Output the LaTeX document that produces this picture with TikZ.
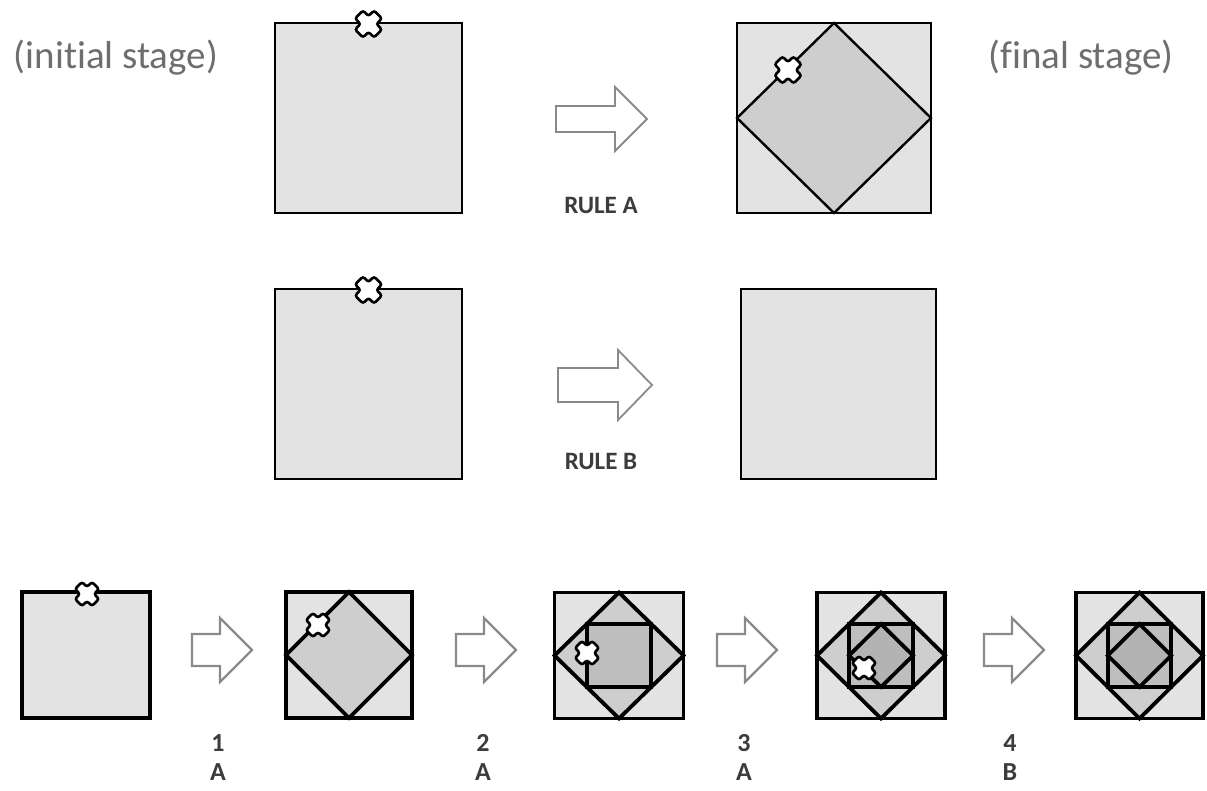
\documentclass[tikz,border=0pt]{standalone}
\usepackage{fontspec}
\setmainfont{Carlito}[Ligatures=NoCommon]
\definecolor{cA}{HTML}{E3E3E3}
\definecolor{cB}{HTML}{CECECE}
\definecolor{cC}{HTML}{BEBEBE}
\definecolor{cD}{HTML}{B3B3B3}
\definecolor{arrowgray}{HTML}{8A8A8A}
\definecolor{lblgray}{HTML}{6E6E6E}
\definecolor{rulegray}{HTML}{3C3C3C}
\newcommand\nestsq[6]{%
  \begin{scope}[shift={(#1,#2)}, line width=#6, line join=miter]
    \filldraw[fill=cA] (-#3,-#4) rectangle (#3,#4);
    \ifnum#5>0 \filldraw[fill=cB] (-#3,0)--(0,-#4)--(#3,0)--(0,#4)--cycle; \fi
    \ifnum#5>1 \filldraw[fill=cC] (-#3/2,-#4/2) rectangle (#3/2,#4/2); \fi
    \ifnum#5>2 \filldraw[fill=cD] (-#3/2,0)--(0,-#4/2)--(#3/2,0)--(0,#4/2)--cycle; \fi
  \end{scope}}
\newcommand\xmark[3]{%
  \begin{scope}[shift={(#1,#2)}, rotate=45, scale=#3]
    \filldraw[fill=white, draw=black, line width=2.6pt, rounded corners=2.4pt]
      (12,-5)--(12,5)--(5,5)--(5,12)--(-5,12)--(-5,5)--(-12,5)--(-12,-5)--(-5,-5)--(-5,-12)--(5,-12)--(5,-5)--cycle;
  \end{scope}}
\newcommand\blockarrow[7]{%
  \filldraw[fill=white, draw=arrowgray, line width=#7, line join=miter]
    (#1,#2-#6)--(#1+#3-#4,#2-#6)--(#1+#3-#4,#2-#5)--(#1+#3,#2)--(#1+#3-#4,#2+#5)--(#1+#3-#4,#2+#6)--(#1,#2+#6)--cycle;}
\tikzset{
  stagelbl/.style={text=lblgray, font=\fontsize{39}{42}\selectfont, inner sep=0pt},
  rulelbl/.style={text=rulegray, font=\fontsize{25}{28}\selectfont\bfseries, inner sep=0pt},
  steplbl/.style={text=rulegray, font=\fontsize{26}{28}\selectfont\bfseries, inner sep=0pt, align=center}
}
\begin{document}
\begin{tikzpicture}[x=1pt, y=-1pt]
\useasboundingbox[fill=white] (0,0) rectangle (1207,791);
% labels
\node[stagelbl] (init) at (116,58) {(initial stage)};
\node[stagelbl] (fin) at (1081,58) {(final stage)};
% row 1
\nestsq{368.5}{118}{93.5}{95}{0}{2.4pt}
\xmark{368.5}{24}{1.12}
\blockarrow{556}{119}{91}{32}{32}{13}{1.8pt}
\node[rulelbl] (ruleA) at (601,205) {RULE A};
\nestsq{834}{118}{97}{95}{1}{2.4pt}
\xmark{788}{70}{1.12}
% row 2
\nestsq{368.5}{384}{93.5}{95}{0}{2.4pt}
\xmark{368.5}{290}{1.12}
\blockarrow{558}{385}{94}{34}{35}{17}{1.8pt}
\node[rulelbl] (ruleB) at (601,461) {RULE B};
\nestsq{838.5}{384}{97.5}{95}{0}{2.4pt}
% row 3
\nestsq{86}{655}{64}{63}{0}{3.8pt}
\xmark{87}{594}{1}
\blockarrow{192}{650}{60}{32}{32}{16}{2.4pt}
\node[steplbl] (s1) at (218,743) {1};
\node[steplbl] (a1) at (218,772) {A};
\nestsq{349}{655}{63}{63}{1}{3.8pt}
\xmark{318}{625}{1}
\blockarrow{456}{650}{60}{32}{32}{16}{2.4pt}
\node[steplbl] (s2) at (483,743) {2};
\node[steplbl] (a2) at (483,772) {A};
\nestsq{619}{655.5}{64.5}{63}{2}{3.8pt}
\xmark{587}{653}{1}
\blockarrow{717}{650}{60}{32}{32}{16}{2.4pt}
\node[steplbl] (s3) at (744,743) {3};
\node[steplbl] (a3) at (744,772) {A};
\nestsq{881}{655.5}{64}{63}{3}{3.8pt}
\xmark{864}{668}{1}
\blockarrow{984}{650}{60}{32}{32}{16}{2.4pt}
\node[steplbl] (s4) at (1010,743) {4};
\node[steplbl] (b4) at (1010,772) {B};
\nestsq{1139.5}{655.5}{63.5}{63}{3}{3.8pt}
\end{tikzpicture}
\end{document}
